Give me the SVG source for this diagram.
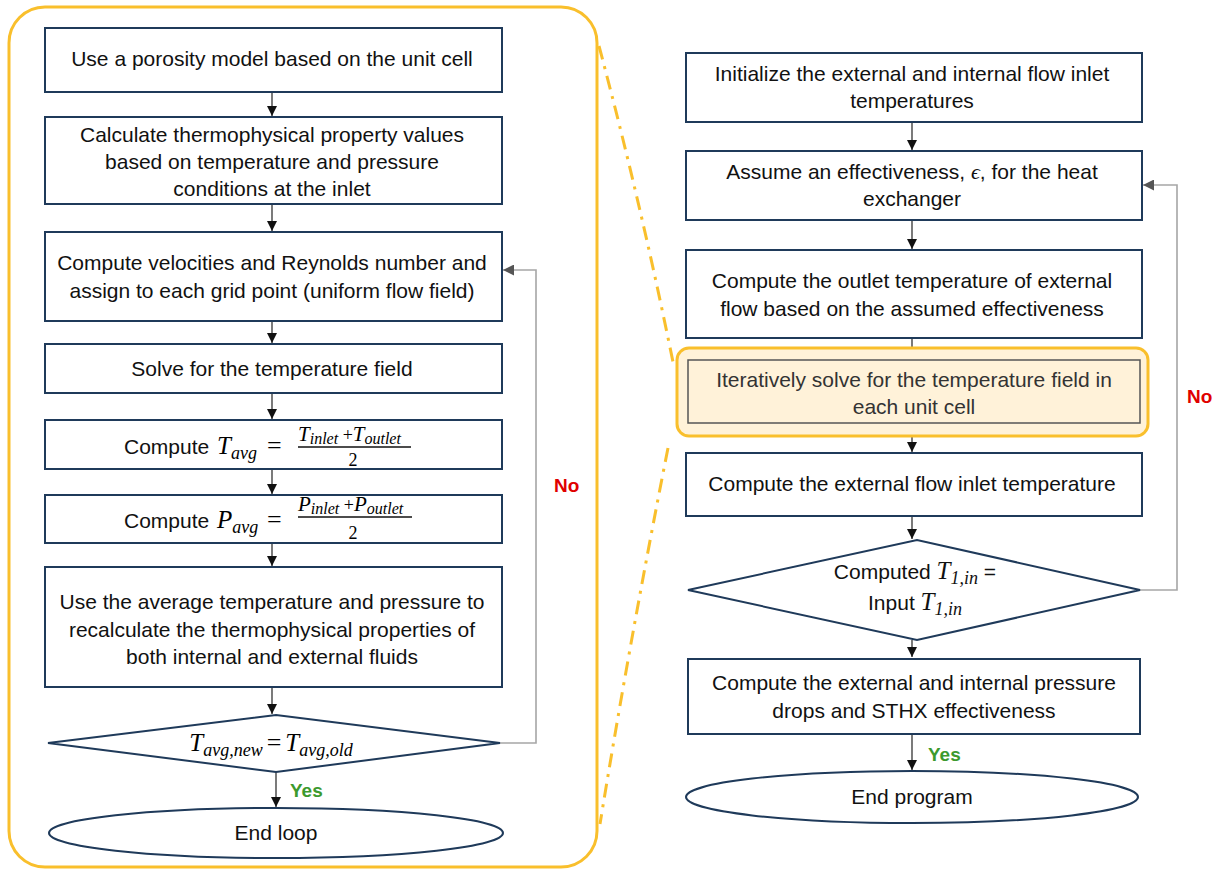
<svg xmlns="http://www.w3.org/2000/svg" width="1222" height="874" viewBox="0 0 1222 874">
<defs>
<marker id="ah" viewBox="0 0 10 10" refX="10" refY="5" markerWidth="10" markerHeight="10" markerUnits="userSpaceOnUse" orient="auto"><path d="M0,0 L10,5 L0,10 z" fill="#111"/></marker>
<marker id="ahg" viewBox="0 0 10 10" refX="10" refY="5" markerWidth="11" markerHeight="11" markerUnits="userSpaceOnUse" orient="auto"><path d="M0,0 L10,5 L0,10 z" fill="#555"/></marker>
<style>
.box{fill:#fff;stroke:#1f3a5a;stroke-width:2}
.t{font-family:"Liberation Sans",Arial,sans-serif;font-size:21px;fill:#111}
.c{text-anchor:middle}
.m{font-family:"Liberation Serif","Times New Roman",serif;font-style:italic;font-size:25px}
.ms{font-family:"Liberation Serif","Times New Roman",serif;font-style:italic;font-size:18px}
.mn{font-family:"Liberation Serif","Times New Roman",serif;font-style:italic;font-size:21px}
.mn2{font-family:"Liberation Serif","Times New Roman",serif;font-style:italic;font-size:16px}
.num{font-family:"Liberation Serif","Times New Roman",serif;font-size:18px}
.eq{font-family:"Liberation Serif","Times New Roman",serif;font-size:26px}
.arr{stroke:#333;stroke-width:1.3;fill:none;marker-end:url(#ah)}
.fb{stroke:#a6a6a6;stroke-width:1.6;fill:none;marker-end:url(#ahg)}
.yes{font-family:"Liberation Sans",Arial,sans-serif;font-size:19px;font-weight:bold;fill:#3c9a2e}
.no{font-family:"Liberation Sans",Arial,sans-serif;font-size:19px;font-weight:bold;fill:#e00000}
.y{stroke:#f9bf2c;stroke-width:3;fill:none}
</style>
</defs>

<g id="zoom-frame">
<rect x="9" y="7" width="588" height="860" rx="36" class="y"/>
<path d="M599,46 Q640,200 673,362" class="y" stroke-dasharray="14,7,3,7"/>
<path d="M668,448 Q630,640 600,824" class="y" stroke-dasharray="14,7,3,7"/>
</g>

<g id="connectors">
<line x1="272" y1="92" x2="272" y2="116" class="arr"/>
<line x1="272" y1="204" x2="272" y2="231" class="arr"/>
<line x1="272" y1="321" x2="272" y2="343" class="arr"/>
<line x1="272" y1="393" x2="272" y2="419" class="arr"/>
<line x1="272" y1="469" x2="272" y2="494" class="arr"/>
<line x1="272" y1="543" x2="272" y2="566" class="arr"/>
<line x1="272" y1="687" x2="272" y2="714" class="arr"/>
<line x1="276" y1="772" x2="276" y2="807" class="arr"/>
<polyline points="500,743 536,743 536,270 503,270" class="fb"/>
<line x1="912" y1="122" x2="912" y2="150" class="arr"/>
<line x1="912" y1="220" x2="912" y2="249" class="arr"/>
<line x1="912" y1="338" x2="912" y2="359" class="arr"/>
<line x1="912" y1="423" x2="912" y2="452" class="arr"/>
<line x1="912" y1="516" x2="912" y2="539" class="arr"/>
<line x1="912" y1="640" x2="912" y2="657" class="arr"/>
<line x1="912" y1="735" x2="912" y2="770" class="arr"/>
<polyline points="1140,590 1177,590 1177,185 1143,185" class="fb"/>
</g>

<g id="n1"><rect x="45" y="28" width="457" height="64" class="box"/>
<text x="272" y="66" class="t c">Use a porosity model based on the unit cell</text></g>

<g id="n2"><rect x="45" y="117" width="457" height="87" class="box"/>
<text class="t c"><tspan x="272" y="142">Calculate thermophysical property values</tspan><tspan x="272" y="169">based on temperature and pressure</tspan><tspan x="272" y="196">conditions at the inlet</tspan></text></g>

<g id="n3"><rect x="45" y="232" width="457" height="89" class="box"/>
<text class="t c"><tspan x="272" y="270">Compute velocities and Reynolds number and</tspan><tspan x="272" y="298">assign to each grid point (uniform flow field)</tspan></text></g>

<g id="n4"><rect x="45" y="344" width="457" height="49" class="box"/>
<text x="272" y="376" class="t c">Solve for the temperature field</text></g>

<g id="n5"><rect x="45" y="420" width="457" height="49" class="box"/>
<text x="124" y="454" class="t">Compute</text>
<text x="217" y="454"><tspan class="m">T</tspan><tspan class="ms" dy="5">avg</tspan></text>
<text x="267" y="454" class="eq">=</text>
<text x="298" y="441"><tspan class="mn">T</tspan><tspan class="mn2" dy="3">inlet</tspan><tspan class="num" dy="-3"> +</tspan><tspan class="mn">T</tspan><tspan class="mn2" dy="3">outlet</tspan></text>
<line x1="298" y1="447" x2="411" y2="447" stroke="#111" stroke-width="1.3"/>
<text x="353" y="466" class="num c">2</text></g>

<g id="n6"><rect x="45" y="495" width="457" height="48" class="box"/>
<text x="124" y="528" class="t">Compute</text>
<text x="217" y="528"><tspan class="m">P</tspan><tspan class="ms" dy="5">avg</tspan></text>
<text x="267" y="528" class="eq">=</text>
<text x="298" y="511"><tspan class="mn">P</tspan><tspan class="mn2" dy="3">inlet</tspan><tspan class="num" dy="-3"> +</tspan><tspan class="mn">P</tspan><tspan class="mn2" dy="3">outlet</tspan></text>
<line x1="298" y1="517" x2="412" y2="517" stroke="#111" stroke-width="1.3"/>
<text x="353" y="539" class="num c">2</text></g>

<g id="n7"><rect x="45" y="567" width="457" height="120" class="box"/>
<text class="t c"><tspan x="272" y="609">Use the average temperature and pressure to</tspan><tspan x="272" y="637">recalculate the thermophysical properties of</tspan><tspan x="272" y="664">both internal and external fluids</tspan></text></g>

<g id="d1"><polygon points="48,743 276,715 500,743 276,772" class="box"/>
<text x="271" y="751" class="c"><tspan class="m">T</tspan><tspan class="ms" dy="5">avg,new</tspan><tspan class="eq" dy="-5" dx="4">=</tspan><tspan class="m" dx="4">T</tspan><tspan class="ms" dy="5">avg,old</tspan></text></g>

<g id="e1"><ellipse cx="276" cy="833" rx="227" ry="25" class="box"/>
<text x="276" y="840" class="t c">End loop</text></g>

<text x="290" y="797" class="yes">Yes</text>
<text x="554" y="492" class="no">No</text>

<g id="r1"><rect x="686" y="53" width="456" height="69" class="box"/>
<text class="t c"><tspan x="912" y="81">Initialize the external and internal flow inlet</tspan><tspan x="912" y="108">temperatures</tspan></text></g>

<g id="r2"><rect x="686" y="151" width="456" height="69" class="box"/>
<text class="t c"><tspan x="912" y="179">Assume an effectiveness, <tspan class="m" style="font-size:22px">ϵ</tspan>, for the heat</tspan><tspan x="912" y="206">exchanger</tspan></text></g>

<g id="r3"><rect x="686" y="250" width="456" height="88" class="box"/>
<text class="t c"><tspan x="912" y="288">Compute the outlet temperature of external</tspan><tspan x="912" y="316">flow based on the assumed effectiveness</tspan></text></g>

<g id="r4">
<rect x="677" y="348" width="471" height="88" rx="12" fill="#fff2d9" stroke="#f9bf2c" stroke-width="3"/>
<rect x="688" y="360" width="452" height="63" fill="#fff2d9" stroke="#555" stroke-width="1.5"/>
<text class="t c" style="fill:#333"><tspan x="914" y="387">Iteratively solve for the temperature field in</tspan><tspan x="914" y="414">each unit cell</tspan></text></g>

<g id="r5"><rect x="686" y="453" width="456" height="63" class="box"/>
<text x="912" y="491" class="t c">Compute the external flow inlet temperature</text></g>

<g id="d2"><polygon points="688,590 917,540 1140,590 917,640" class="box"/>
<text x="915" y="579" class="t c">Computed <tspan class="m">T</tspan><tspan class="ms" dy="5">1,in</tspan><tspan dy="-5"> =</tspan></text>
<text x="915" y="610" class="t c">Input <tspan class="m">T</tspan><tspan class="ms" dy="5">1,in</tspan></text></g>

<g id="r6"><rect x="688" y="659" width="452" height="75" class="box"/>
<text class="t c"><tspan x="914" y="690">Compute the external and internal pressure</tspan><tspan x="914" y="718">drops and STHX effectiveness</tspan></text></g>

<g id="e2"><ellipse cx="912" cy="797" rx="226" ry="26" class="box"/>
<text x="912" y="804" class="t c">End program</text></g>

<text x="928" y="761" class="yes">Yes</text>
<text x="1187" y="403" class="no">No</text>
</svg>
